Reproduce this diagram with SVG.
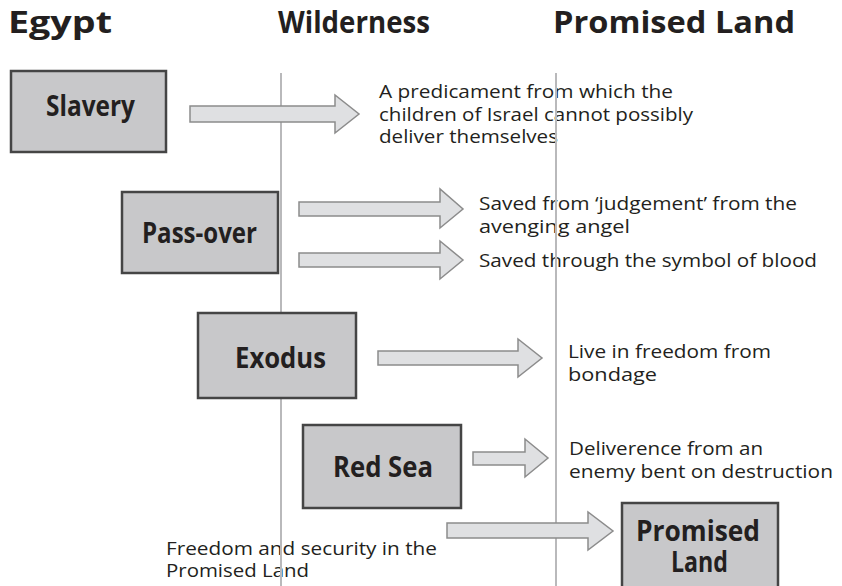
<svg xmlns="http://www.w3.org/2000/svg" width="842" height="586" viewBox="0 0 842 586">
<style>
.hdr{font-family:"Open Sans","DejaVu Sans",sans-serif;font-weight:bold;font-size:31px;fill:#231f20}
.lbl{font-family:"Open Sans","DejaVu Sans",sans-serif;font-weight:bold;font-size:28px;fill:#231f20;text-anchor:start}
.txt{font-family:"Open Sans","DejaVu Sans",sans-serif;font-size:19px;fill:#231f20}
.box{fill:#c8c8ca;stroke:#454545;stroke-width:2.5}
.arr{fill:#dfe0e2;stroke:#8c8c8c;stroke-width:1.5;stroke-linejoin:miter}
.vline{stroke:#b9b9bb;stroke-width:2}
</style>
<rect width="842" height="586" fill="#ffffff"/>
<g id="headers">
<text class="hdr" x="8" y="33" textLength="104" lengthAdjust="spacingAndGlyphs">Egypt</text>
<text class="hdr" x="278" y="33" textLength="152" lengthAdjust="spacingAndGlyphs">Wilderness</text>
<text class="hdr" x="553" y="33" textLength="242" lengthAdjust="spacingAndGlyphs">Promised Land</text>
</g>
<g id="descriptions">
<text class="txt" x="379" y="98" textLength="294" lengthAdjust="spacingAndGlyphs">A predicament from which the</text>
<text class="txt" x="379" y="121" textLength="314" lengthAdjust="spacingAndGlyphs">children of Israel cannot possibly</text>
<text class="txt" x="379" y="143" textLength="179" lengthAdjust="spacingAndGlyphs">deliver themselves</text>
<text class="txt" x="479" y="210" textLength="318" lengthAdjust="spacingAndGlyphs">Saved from ‘judgement’ from the</text>
<text class="txt" x="479" y="233" textLength="151" lengthAdjust="spacingAndGlyphs">avenging angel</text>
<text class="txt" x="479" y="267" textLength="338" lengthAdjust="spacingAndGlyphs">Saved through the symbol of blood</text>
<text class="txt" x="568" y="358" textLength="203" lengthAdjust="spacingAndGlyphs">Live in freedom from</text>
<text class="txt" x="568" y="381" textLength="89" lengthAdjust="spacingAndGlyphs">bondage</text>
<text class="txt" x="569" y="455" textLength="194" lengthAdjust="spacingAndGlyphs">Deliverence from an</text>
<text class="txt" x="569" y="478" textLength="264" lengthAdjust="spacingAndGlyphs">enemy bent on destruction</text>
<text class="txt" x="166" y="555" textLength="271" lengthAdjust="spacingAndGlyphs">Freedom and security in the</text>
<text class="txt" x="166" y="577" textLength="143" lengthAdjust="spacingAndGlyphs">Promised Land</text>
</g>
<g id="columns">
<line class="vline" x1="281" y1="73" x2="281" y2="586"/>
<line class="vline" x1="556" y1="73" x2="556" y2="586"/>
</g>
<g id="connectors">
<polygon class="arr" points="190,106 335,106 335,95 359,114 335,133 335,122 190,122"/>
<polygon class="arr" points="299,202 440,202 440,189 463,209 440,228 440,216 299,216"/>
<polygon class="arr" points="299,253 440,253 440,241 463,260 440,279 440,267 299,267"/>
<polygon class="arr" points="378,351 518,351 518,339 542,358 518,377 518,365 378,365"/>
<polygon class="arr" points="473,452 525,452 525,439 548,458 525,477 525,465 473,465"/>
<polygon class="arr" points="447,523 588,523 588,512 613,531 588,550 588,538 447,538"/>
</g>
<g id="slavery">
<rect class="box" x="11" y="71" width="155" height="81"/>
<text class="lbl" x="46" y="116" textLength="89" lengthAdjust="spacingAndGlyphs">Slavery</text>
</g>
<g id="passover">
<rect class="box" x="122" y="192" width="156" height="81"/>
<text class="lbl" x="142" y="243" textLength="115" lengthAdjust="spacingAndGlyphs">Pass-over</text>
</g>
<g id="exodus">
<rect class="box" x="198" y="313" width="158" height="85"/>
<text class="lbl" x="235" y="368" textLength="91" lengthAdjust="spacingAndGlyphs">Exodus</text>
</g>
<g id="redsea">
<rect class="box" x="303" y="425" width="158" height="83"/>
<text class="lbl" x="333" y="477" textLength="100" lengthAdjust="spacingAndGlyphs">Red Sea</text>
</g>
<g id="promisedland">
<rect class="box" x="622" y="503" width="156" height="90"/>
<text class="lbl" x="636" y="541" textLength="124" lengthAdjust="spacingAndGlyphs">Promised</text>
<text class="lbl" x="671" y="572" textLength="57" lengthAdjust="spacingAndGlyphs">Land</text>
</g>
</svg>
